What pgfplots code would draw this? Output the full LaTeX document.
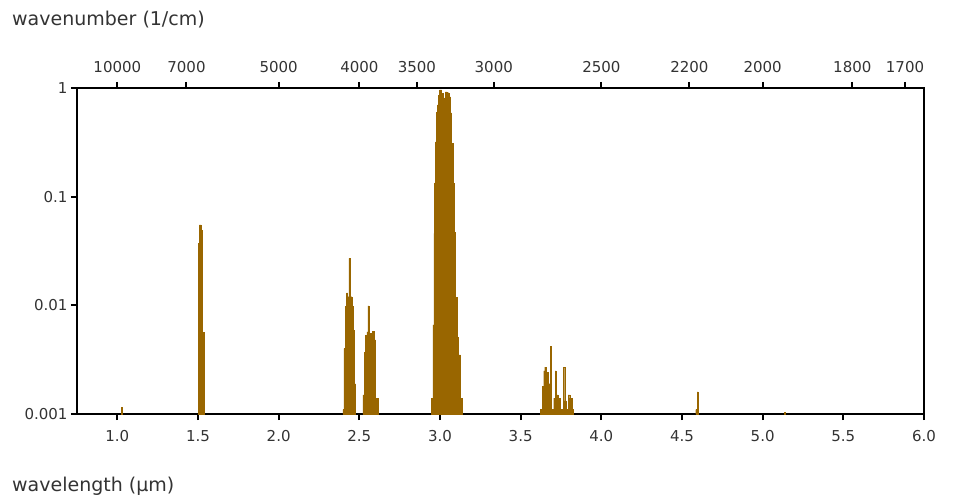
\documentclass[border=0pt]{standalone}
\usepackage{fontspec}
\setmainfont{DejaVu Sans}
\usepackage{pgfplots}
\pgfplotsset{compat=1.18}
\definecolor{band}{HTML}{996600}
\newcommand{\tickfont}{\fontsize{15bp}{18bp}\selectfont}
\newcommand{\titlefont}{\fontsize{19bp}{22bp}\selectfont}
\pgfplotsset{bandstyle/.style={ybar interval, fill=band, draw=band, line width=0.4bp, mark=none}}
\begin{document}
\begin{tikzpicture}
\useasboundingbox (0,0) rectangle (960bp,504bp);
\begin{axis}[
  at={(77bp,90bp)}, anchor=south west,
  scale only axis, width=847bp, height=326bp,
  xmin=0.75, xmax=6.0, ymode=log, ymin=0.001, ymax=1,
  log origin y=infty,
  axis line style={line width=2bp},
  xtick pos=bottom, ytick pos=left,
  tick align=outside, major tick length=6bp,
  every tick/.style={line width=2bp, black},
  yminorticks=false,
  xtick={1,1.5,2,2.5,3,3.5,4,4.5,5,5.5,6},
  xticklabels={1.0,1.5,2.0,2.5,3.0,3.5,4.0,4.5,5.0,5.5,6.0},
  ytick={0.001,0.01,0.1,1},
  yticklabels={0.001,0.01,0.1,1},
  tick label style={font=\tickfont, text=black!80},
  xticklabel style={yshift=-7bp},
  clip=true,
]
\addplot[bandstyle] coordinates {(1.025,0.00116)(1.031,0.00116)};
\addplot[bandstyle] coordinates {(1.5025,0.037)(1.5087,0.055)(1.5186,0.049)(1.529,0.0056)(1.540,0.0056)};
\addplot[bandstyle] coordinates {(2.398,0.0011)(2.404,0.0040)(2.4125,0.0098)(2.421,0.013)(2.427,0.012)(2.435,0.027)(2.441,0.012)(2.4535,0.0098)(2.464,0.0059)(2.470,0.0019)(2.476,0.0019)};
\addplot[bandstyle] coordinates {(2.522,0.0015)(2.530,0.0037)(2.5385,0.0053)(2.5465,0.0057)(2.553,0.0099)(2.559,0.0045)(2.5695,0.0055)(2.580,0.0058)(2.590,0.0048)(2.6005,0.0014)(2.615,0.0014)};
\addplot[bandstyle] coordinates {(2.946,0.0014)(2.956,0.0066)(2.962,0.046)(2.9665,0.134)(2.971,0.32)(2.977,0.60)(2.983,0.70)(2.991,0.86)(2.9975,0.96)(3.010,0.89)(3.020,0.70)(3.0265,0.81)(3.033,0.92)(3.043,0.905)(3.055,0.83)(3.066,0.59)(3.072,0.31)(3.080,0.134)(3.086,0.047)(3.095,0.0118)(3.105,0.0051)(3.115,0.0035)(3.126,0.0014)(3.136,0.0014)};
\addplot[bandstyle] coordinates {(3.624,0.0011)(3.634,0.0018)(3.643,0.0025)(3.649,0.0027)(3.659,0.0024)(3.670,0.0019)(3.684,0.0042)(3.692,0.0011)(3.705,0.0014)(3.713,0.0025)(3.719,0.0015)(3.732,0.0014)(3.746,0.0011)(3.763,0.0027)(3.773,0.00132)(3.783,0.0011)(3.794,0.0015)(3.804,0.0014)(3.818,0.0011)(3.825,0.0011)};
\addplot[bandstyle] coordinates {(4.585,0.0011)(4.594,0.0016)(4.600,0.0016)};
\addplot[bandstyle] coordinates {(5.133,0.00104)(5.142,0.00104)};
\end{axis}
\begin{axis}[
  at={(77bp,90bp)}, anchor=south west,
  scale only axis, width=847bp, height=326bp,
  xmin=0.75, xmax=6.0, ymin=0, ymax=1,
  axis x line*=top, axis y line=none,
  axis line style={line width=2bp},
  tick align=outside, major tick length=6bp,
  every tick/.style={line width=2bp, black},
  xtick={1.0,1.428571,2.0,2.5,2.857143,3.333333,4.0,4.545455,5.0,5.555556,5.882353},
  xticklabels={10000,7000,5000,4000,3500,3000,2500,2200,2000,1800,1700},
  tick label style={font=\tickfont, text=black!80},
  xticklabel style={yshift=6bp},
]
\end{axis}
\node[anchor=base west, inner sep=0, text=black!80, font=\titlefont] at (12bp,478bp) {wavenumber (1/cm)};
\node[anchor=base west, inner sep=0, text=black!80, font=\titlefont] at (12bp,13bp) {wavelength (µm)};
\end{tikzpicture}
\end{document}
